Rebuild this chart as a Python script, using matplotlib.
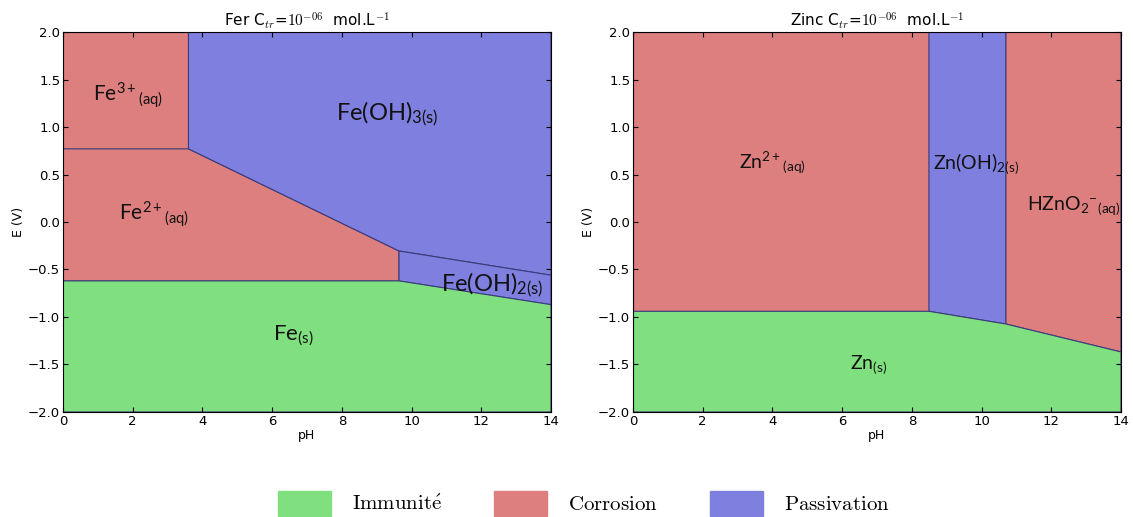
import matplotlib
matplotlib.use("Agg")
import matplotlib.pyplot as plt
from matplotlib.patches import Polygon, Patch

plt.rcParams['mathtext.fontset'] = 'custom'
plt.rcParams['mathtext.rm'] = 'Lato'
plt.rcParams['mathtext.it'] = 'Lato:italic'

# Fer : frontieres (pH, E)
fe_E_fe3_fe2 = 0.77
fe_pH_fe3_oh3 = 3.6
fe_pH_fe2_oh2 = 9.64
fe_E_fe2_oh3_end = -0.305
fe_E_fe_fe2 = [-0.62, -0.62]
fe_E_oh3_oh2 = [-0.305, -0.56]
fe_E_oh2_fe = [-0.62, -0.87]

# Zinc : frontieres
zn_E_zn_zn2 = -0.94
zn_pH_zn2_oh2 = 8.49
zn_pH_oh2_hzno2 = 10.7
zn_E_oh2_zn = [-0.94, -1.074]
zn_E_hzno2_zn = [-1.074, -1.368]

pH_min, pH_max = 0, 14
E_min, E_max = -2.0, 2.0

green = '#80e080'
red = '#de7f7f'
blue = '#7f7fe0'
edge = '#3b3b7a'

fe_regions = [
    ([(0, fe_E_fe3_fe2), (fe_pH_fe3_oh3, fe_E_fe3_fe2), (fe_pH_fe3_oh3, E_max), (0, E_max)], red),
    ([(0, fe_E_fe_fe2[0]), (fe_pH_fe2_oh2, fe_E_fe_fe2[1]), (fe_pH_fe2_oh2, fe_E_fe2_oh3_end),
      (fe_pH_fe3_oh3, fe_E_fe3_fe2), (0, fe_E_fe3_fe2)], red),
    ([(fe_pH_fe3_oh3, E_max), (fe_pH_fe3_oh3, fe_E_fe3_fe2), (fe_pH_fe2_oh2, fe_E_oh3_oh2[0]),
      (pH_max, fe_E_oh3_oh2[1]), (pH_max, E_max)], blue),
    ([(fe_pH_fe2_oh2, fe_E_oh3_oh2[0]), (pH_max, fe_E_oh3_oh2[1]), (pH_max, fe_E_oh2_fe[1]),
      (fe_pH_fe2_oh2, fe_E_oh2_fe[0])], blue),
    ([(0, E_min), (0, fe_E_fe_fe2[0]), (fe_pH_fe2_oh2, fe_E_fe_fe2[1]), (pH_max, fe_E_oh2_fe[1]),
      (pH_max, E_min)], green),
]

zn_regions = [
    ([(0, zn_E_zn_zn2), (zn_pH_zn2_oh2, zn_E_zn_zn2), (zn_pH_zn2_oh2, E_max), (0, E_max)], red),
    ([(zn_pH_zn2_oh2, zn_E_oh2_zn[0]), (zn_pH_oh2_hzno2, zn_E_oh2_zn[1]), (zn_pH_oh2_hzno2, E_max),
      (zn_pH_zn2_oh2, E_max)], blue),
    ([(zn_pH_oh2_hzno2, zn_E_hzno2_zn[0]), (pH_max, zn_E_hzno2_zn[1]), (pH_max, E_max),
      (zn_pH_oh2_hzno2, E_max)], red),
    ([(0, E_min), (0, zn_E_zn_zn2), (zn_pH_zn2_oh2, zn_E_oh2_zn[0]), (zn_pH_oh2_hzno2, zn_E_hzno2_zn[0]),
      (pH_max, zn_E_hzno2_zn[1]), (pH_max, E_min)], green),
]

fe_labels = [
    (1.85, 1.34, r'Fe$^{3+}$$_{\mathrm{(aq)}}$', 15),
    (9.3, 1.14, r'Fe(OH)$_{\mathrm{3(s)}}$', 17),
    (2.6, 0.08, r'Fe$^{2+}$$_{\mathrm{(aq)}}$', 15),
    (12.3, -0.66, r'Fe(OH)$_{\mathrm{2(s)}}$', 17),
    (6.6, -1.2, r'Fe$_{\mathrm{(s)}}$', 16),
]
zn_labels = [
    (4.0, 0.62, r'Zn$^{2+}$$_{\mathrm{(aq)}}$', 14),
    (9.85, 0.62, r'Zn(OH)$_{\mathrm{2(s)}}$', 14),
    (12.65, 0.17, r'HZnO$_2$$^{-}$$_{\mathrm{(aq)}}$', 14),
    (6.75, -1.5, r'Zn$_{\mathrm{(s)}}$', 14),
]

fig = plt.figure(figsize=(11.33, 5.17), dpi=100)
ax1 = fig.add_axes([0.0556, 0.2031, 0.4307, 0.735])
ax2 = fig.add_axes([0.5587, 0.2031, 0.4307, 0.735])

for ax, regions, labels, name in [(ax1, fe_regions, fe_labels, 'Fer'),
                                  (ax2, zn_regions, zn_labels, 'Zinc')]:
    for pts, col in regions:
        ax.add_patch(Polygon(pts, closed=True, facecolor=col, edgecolor=edge, linewidth=0.8))
    for x, y, s, fs in labels:
        ax.text(x, y, s, fontsize=fs, ha='center', va='center', family='Lato',
                math_fontfamily='custom', color='#111111')
    ax.set_xlim(pH_min, pH_max)
    ax.set_ylim(E_min, E_max)
    ax.set_xticks(range(0, 15, 2))
    ax.set_yticks([-2.0, -1.5, -1.0, -0.5, 0.0, 0.5, 1.0, 1.5, 2.0])
    ax.tick_params(direction='in', top=True, right=True, labelsize=9.5, pad=2)
    ax.set_xlabel('pH', fontsize=9, labelpad=1)
    ax.set_ylabel('E (V)', fontsize=9, labelpad=2)
    ax.set_title(name + r' C$_{tr}$=$10^{-06}$  mol.L$^{-1}$', fontsize=11, pad=4, math_fontfamily='cm')

handles = [Patch(facecolor=green, edgecolor=green), Patch(facecolor=red, edgecolor=red),
           Patch(facecolor=blue, edgecolor=blue)]
names = [r'$\mathrm{Immunit\acute{e}}$', r'$\mathrm{Corrosion}$', r'$\mathrm{Passivation}$']
leg = fig.legend(handles, names, loc='center', bbox_to_anchor=(0.515, 0.026), ncol=3, frameon=False,
                 handlelength=2.55, handleheight=1.45, handletextpad=1.0, columnspacing=2.5,
                 prop={'size': 15}, borderpad=0.0)
for t in leg.get_texts():
    t.set_math_fontfamily('cm')

fig.savefig('out.png', dpi=100)
